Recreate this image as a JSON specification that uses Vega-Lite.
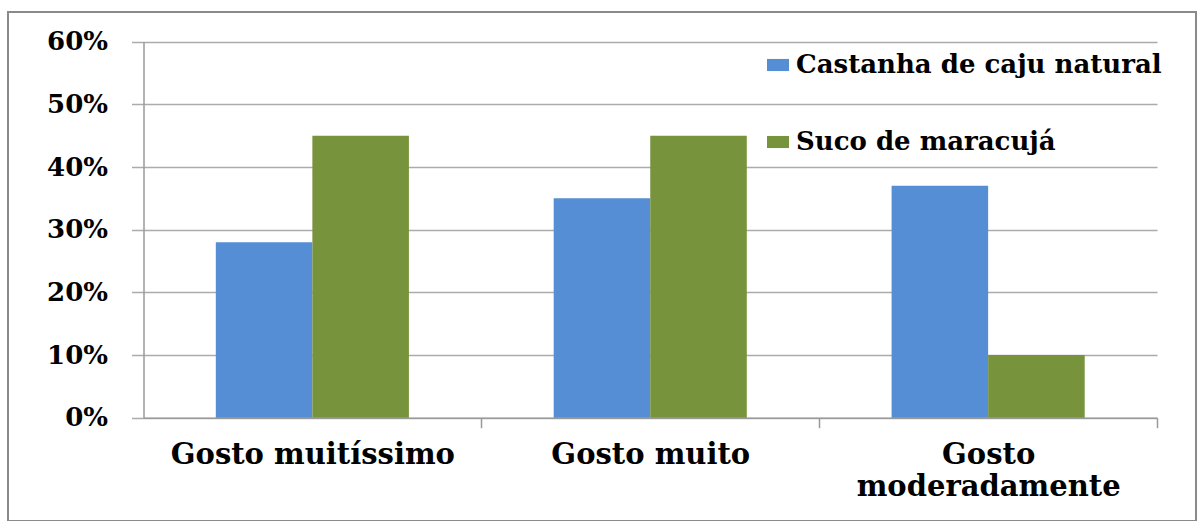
{
  "$schema": "https://vega.github.io/schema/vega-lite/v6.json",
  "width": 1188,
  "height": 509,
  "autosize": {"type": "none"},
  "padding": {"left": 8, "top": 12, "right": 2, "bottom": 0},
  "background": "#ffffff",
  "config": {
    "view": {"stroke": "#8a8a8a", "strokeWidth": 2},
    "font": "DejaVu Serif"
  },
  "data": {
    "values": [
      {"nivel": "Gosto muitíssimo", "produto": "Castanha de caju natural", "pct": 0.28},
      {"nivel": "Gosto muitíssimo", "produto": "Suco de maracujá", "pct": 0.45},
      {"nivel": "Gosto muito", "produto": "Castanha de caju natural", "pct": 0.35},
      {"nivel": "Gosto muito", "produto": "Suco de maracujá", "pct": 0.45},
      {"nivel": "Gosto moderadamente", "produto": "Castanha de caju natural", "pct": 0.37},
      {"nivel": "Gosto moderadamente", "produto": "Suco de maracujá", "pct": 0.10}
    ]
  },
  "mark": {"type": "bar"},
  "encoding": {
    "x": {
      "field": "nivel",
      "type": "nominal",
      "sort": ["Gosto muitíssimo", "Gosto muito", "Gosto moderadamente"],
      "scale": {"range": [135.5, 1149], "paddingInner": 0.4285, "paddingOuter": 0.214},
      "axis": {
        "title": null,
        "orient": "bottom",
        "offset": -103.3,
        "grid": false,
        "labelAngle": 0,
        "domainColor": "#9a9a9a",
        "domainWidth": 1.5,
        "tickColor": "#9a9a9a",
        "tickWidth": 1.5,
        "tickSize": 10,
        "tickBand": "center",
        "tickOffset": 169,
        "labelOffset": -169,
        "labelPadding": 13,
        "labelFont": "DejaVu Serif",
        "labelFontWeight": "bold",
        "labelFontSize": 29,
        "labelColor": "#000000",
        "labelLineHeight": 32,
        "labelLimit": 0,
        "labelExpr": "datum.value == 'Gosto moderadamente' ? ['Gosto', 'moderadamente'] : datum.label"
      }
    },
    "xOffset": {
      "field": "produto",
      "type": "nominal",
      "sort": ["Castanha de caju natural", "Suco de maracujá"],
      "scale": {"paddingInner": 0, "paddingOuter": 0}
    },
    "y": {
      "field": "pct",
      "type": "quantitative",
      "scale": {"domain": [0, 0.6], "range": [405.7, 29.7], "nice": false, "zero": true},
      "axis": {
        "title": null,
        "offset": -135.5,
        "values": [0, 0.1, 0.2, 0.3, 0.4, 0.5, 0.6],
        "format": ".0%",
        "grid": true,
        "gridColor": "#ababab",
        "gridWidth": 1.5,
        "domainColor": "#9a9a9a",
        "domainWidth": 1.5,
        "tickColor": "#ababab",
        "tickWidth": 1.5,
        "tickSize": 12,
        "labelPadding": 24,
        "labelFont": "DejaVu Serif",
        "labelFontWeight": "bold",
        "labelFontSize": 26,
        "labelColor": "#000000"
      }
    },
    "color": {
      "field": "produto",
      "type": "nominal",
      "sort": ["Castanha de caju natural", "Suco de maracujá"],
      "scale": {"range": ["#558ED5", "#77933C"]},
      "legend": {
        "title": null,
        "orient": "none",
        "legendX": 757,
        "legendY": 40,
        "padding": 0,
        "symbolType": "M-1,-0.55H1V0.55H-1Z",
        "symbolSize": 484,
        "symbolStrokeWidth": 0,
        "symbolOpacity": 1,
        "labelFont": "DejaVu Serif",
        "labelFontWeight": "bold",
        "labelFontSize": 26,
        "labelColor": "#000000",
        "labelOffset": 5,
        "labelLimit": 0,
        "rowPadding": 51
      }
    }
  }
}
